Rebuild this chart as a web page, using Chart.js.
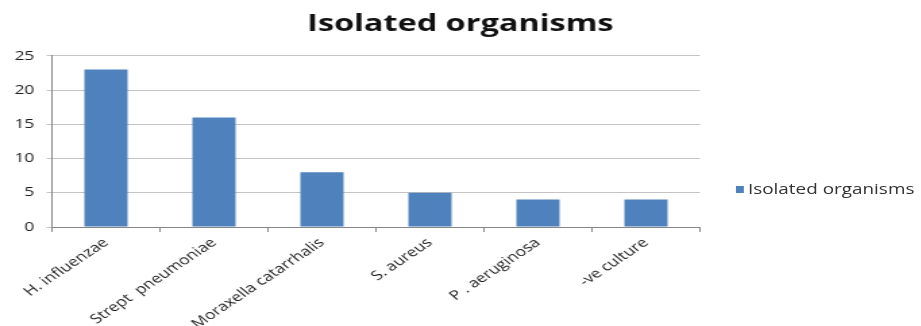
<!DOCTYPE html>
<html>
<head>
<meta charset="utf-8">
<script src="https://cdn.jsdelivr.net/npm/chart.js@4.4.1/dist/chart.umd.min.js"></script>
<style>
  body { margin: 0; background: #fff; overflow: hidden; }
  /* the reference picture is a horizontally stretched screenshot */
  #wrap { position: relative; width: 682px; height: 326px; transform: scaleX(1.35); transform-origin: 0 0; }
  #legend { position: absolute; left: 545px; top: 179px; font: 14px "Open Sans", sans-serif; color: #333; white-space: nowrap; line-height: 19px; }
  #legend span { display: inline-block; width: 6px; height: 7px; background: #4f81bd; margin-right: 3px; vertical-align: 1px; }
</style>
</head>
<body>
<div id="wrap">
  <canvas id="grafico"></canvas>
  <div id="legend"><span></span>Isolated organisms</div>
</div>
<script>
const categorias = ['H. influenzae', 'Strept  pneumoniae', 'Moraxella catarrhalis', 'S. aureus', 'P . aeruginosa', '-ve culture'];
const valores = [23, 16, 8, 5, 4, 4];
const serie = 'Isolated organisms';
const ticksY = [0, 5, 10, 15, 20, 25];

const ctx = document.getElementById('grafico').getContext('2d');
new Chart(ctx, {
  type: 'bar',
  data: {
    labels: categorias,
    datasets: [{
      label: serie,
      data: valores,
      backgroundColor: '#4f81bd',
      borderWidth: 0,
      barPercentage: 0.5,
      categoryPercentage: 0.8
    }]
  },
  options: {
    responsive: true,
    maintainAspectRatio: false,
    animation: false,
    layout: { padding: 0 },
    plugins: {
      legend: { display: false },
      tooltip: { enabled: false },
      title: {
        display: true,
        text: 'Isolated organisms',
        color: '#111',
        font: { family: 'Open Sans', size: 24, weight: 'bold' },
        padding: { top: 10, bottom: 17 }
      }
    },
    scales: {
      x: {
        grid: { display: true, drawOnChartArea: false, offset: true, color: '#868686', tickLength: 5 },
        border: { color: '#868686' },
        afterFit: (scale) => { scale.height = 99; },
        ticks: {
          color: '#222',
          font: { family: 'Open Sans', size: 13 },
          minRotation: 42,
          maxRotation: 42,
          autoSkip: false
        }
      },
      y: {
        min: 0,
        max: 25,
        afterBuildTicks: (scale) => { scale.ticks = ticksY.map(v => ({ value: v })); },
        afterFit: (scale) => { scale.width = 38.5; },
        grid: { color: '#c4c4c4', tickLength: 4 },
        border: { color: '#868686' },
        ticks: {
          color: '#222',
          font: { family: 'Open Sans', size: 13 },
          padding: 9
        }
      },
      // empty axis that keeps the legend space on the right
      espaco: {
        position: 'right',
        grid: { display: false },
        border: { display: false },
        ticks: { display: false },
        afterFit: (scale) => { scale.width = 163.5; }
      }
    }
  }
});
</script>
</body>
</html>
